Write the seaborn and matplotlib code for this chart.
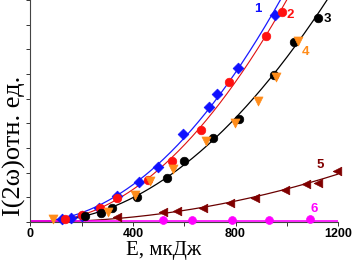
import numpy as np
import pandas as pd
import matplotlib
matplotlib.use("Agg")
import matplotlib.pyplot as plt
import seaborn as sns

# ---- data (E in мкДж, intensity in arbitrary units) ----
E1 = [123, 158, 201, 267, 337, 423, 497, 594, 696, 727, 808, 953]
Y1 = [0.12, 0.16, 0.24, 0.57, 1.05, 1.62, 2.23, 3.57, 4.66, 5.19, 6.24, 8.39]

E2 = [135, 201, 271, 337, 458, 551, 664, 773, 917, 980]
Y2 = [0.12, 0.28, 0.57, 0.97, 1.70, 2.47, 3.73, 5.67, 7.54, 8.51]

E3 = [212, 275, 317, 415, 532, 598, 711, 812, 949, 1027, 1120]
Y3 = [0.24, 0.36, 0.57, 1.01, 1.78, 2.47, 3.40, 4.18, 5.96, 7.30, 8.27]

E4 = [88, 302, 407, 466, 555, 684, 797, 886, 956, 1042]
Y4 = [0.12, 0.41, 1.09, 1.66, 2.15, 3.28, 4.01, 4.90, 5.88, 7.34]

E5 = [337, 516, 571, 672, 777, 875, 992, 1074, 1120, 1194]
Y5 = [0.20, 0.41, 0.45, 0.57, 0.77, 0.97, 1.30, 1.54, 1.58, 2.07]

E6 = [516, 629, 785, 929, 1089]
Y6 = [0.08, 0.08, 0.08, 0.08, 0.12]

series_labels = ["1", "2", "3", "4", "5", "6"]
x_ticks = [0, 400, 800, 1200]
x_label = "E, мкДж"
y_label = "I(2ω)отн. ед."

# ---- styling ----
sns.set_theme(style="white")
plt.rcParams["font.family"] = ["Liberation Sans", "DejaVu Sans"]

fig = plt.figure(figsize=(3.54, 2.64), dpi=100)
ax = fig.add_axes([0.086, 0.159, 0.869, 0.841])

grid = np.linspace(0, 1200, 400)


def fit_curve(E, Y):
    E = np.asarray(E, float)
    Y = np.asarray(Y, float)
    A = np.column_stack([E ** 2, E])
    (a, b), *_ = np.linalg.lstsq(A, Y, rcond=None)
    y = a * grid ** 2 + b * grid
    if b < 0:
        y = np.where(grid < -b / a, 0.0, y)
    return np.clip(y, 0.03, None)


curves = [
    (E1, Y1, "#1a1aff", 0.9),
    (E2, Y2, "#e01010", 0.8),
    (E3, Y3, "#000000", 0.9),
    (E5, Y5, "#6a0000", 0.9),
]
for E, Y, col, lw in curves:
    sns.lineplot(x=grid, y=fit_curve(E, Y), color=col, lw=lw, ax=ax)

sns.lineplot(x=grid, y=np.full_like(grid, np.mean(Y6) * 0.5),
             color="#ff00ff", lw=1.2, ax=ax)

marks = [
    (E1, Y1, "D", "#1010ff", 30),
    (E2, Y2, "o", "#ff1010", 38),
    (E3, Y3, "o", "#000000", 38),
    (E4, Y4, "v", "#ff8c1a", 42),
    (E5, Y5, "<", "#800000", 38),
    (E6, Y6, "o", "#ff00ff", 32),
]
for E, Y, m, col, s in marks:
    sns.scatterplot(x=E, y=Y, marker=m, color=col, s=s, edgecolor=col,
                    linewidth=0.5, ax=ax, zorder=3, clip_on=False)

label_pos = [(887, 8.65), (1015, 8.4), (1160, 8.25), (1073, 6.9), (1132, 2.3), (1108, 0.52)]
label_cols = ["#1010ff", "#ff1010", "#000000", "#ff8c1a", "#800000", "#ff00ff"]
for t, (x, y), c in zip(series_labels, label_pos, label_cols):
    ax.text(x, y, t, color=c, fontsize=9.5, fontweight="bold", ha="center", va="center")

ax.set_xlim(0, 1200)
ax.set_ylim(0, 9)
ax.set_xticks(x_ticks)
ax.set_xticks([200, 600, 1000], minor=True)
ax.set_xticklabels([str(v) for v in x_ticks], fontweight="bold", fontsize=9, color="black")
ax.set_yticks(np.arange(0, 10, 1))
ax.set_yticklabels([])
ax.tick_params(axis="both", which="both", direction="out", length=3, width=0.7,
               color="#333333", bottom=True, left=True, pad=2)
ax.tick_params(axis="x", which="major", pad=1.5)

for side in ["top", "right"]:
    ax.spines[side].set_visible(False)
for side in ["left", "bottom"]:
    ax.spines[side].set_color("#444444")
    ax.spines[side].set_linewidth(0.8)

fig.text(164 / 354, 1 - 251 / 264, x_label, family=["Liberation Serif", "DejaVu Serif"],
         fontsize=15, ha="center", va="center", color="black")
fig.text(14 / 354, 1 - 146 / 264, y_label, family=["Liberation Serif", "DejaVu Serif"],
         fontsize=19, ha="center", va="center", rotation=90, rotation_mode="anchor",
         color="black")

fig.savefig("out.png", dpi=100)
